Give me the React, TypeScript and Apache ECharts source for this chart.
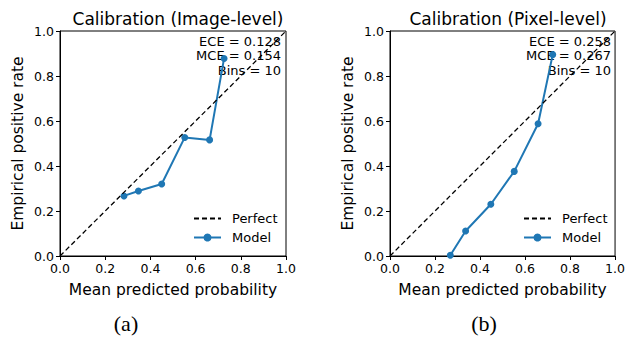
import React, { useEffect, useRef } from "react";
import * as echarts from "echarts";

const ticks = [0, 0.2, 0.4, 0.6, 0.8, 1.0];
const perfectX = [0, 1];
const perfectY = [0, 1];
const imageX = [0.283, 0.347, 0.45, 0.552, 0.662, 0.726];
const imageY = [0.267, 0.289, 0.32, 0.527, 0.516, 0.878];
const pixelX = [0.268, 0.336, 0.448, 0.552, 0.658, 0.723];
const pixelY = [0.003, 0.111, 0.23, 0.376, 0.588, 0.895];
const titles = ["Calibration (Image-level)", "Calibration (Pixel-level)"];
const stats = [
  ["ECE = 0.128", "MCE = 0.154", "Bins = 10"],
  ["ECE = 0.258", "MCE = 0.267", "Bins = 10"],
];
const captions = ["(a)", "(b)"];

const BLUE = "#1f77b4";
const FONT = "DejaVu Sans";

export default function App() {
  const ref = useRef<HTMLDivElement>(null);
  useEffect(() => {
    if (!ref.current) return;
    const chart = echarts.init(ref.current, null, { renderer: "svg" });
    const lefts = [60, 390];
    const W = 226;
    const H = 225;
    const top = 31;
    const zip = (a: number[], b: number[]) => a.map((v, i) => [v, b[i]]);
    const axisCommon = {
      type: "value",
      min: 0,
      max: 1,
      interval: 0.2,
      axisLine: { show: true, lineStyle: { color: "#000", width: 1 } },
      axisTick: { show: true, inside: false, length: 4, lineStyle: { color: "#000" } },
      splitLine: { show: false },
      axisLabel: {
        color: "#000",
        fontFamily: FONT,
        fontSize: 12.5,
        formatter: (v: number) => v.toFixed(1),
        margin: 6,
      },
      nameTextStyle: { color: "#000", fontFamily: FONT, fontSize: 15.5 },
    };
    const graphics: any[] = [];
    lefts.forEach((l, i) => {
      stats[i].forEach((s, j) => {
        graphics.push({
          type: "text",
          x: l + W - 5,
          y: 41 + j * 14.7,
          style: {
            text: s,
            fill: "#000",
            font: `13px "${FONT}"`,
            textAlign: "right",
            textVerticalAlign: "middle",
          },
        });
      });
    });
    const capX = [126, 484];
    captions.forEach((c, i) => {
      graphics.push({
        type: "text",
        x: capX[i],
        y: 323,
        style: {
          text: c,
          fill: "#000",
          font: `22px "Liberation Serif"`,
          textAlign: "center",
          textVerticalAlign: "middle",
        },
      });
    });
    const option: any = {
      animation: false,
      backgroundColor: "#fff",
      title: titles.map((t, i) => ({
        text: t,
        left: lefts[i] + W / 2,
        top: 5,
        textAlign: "center",
        textStyle: { color: "#000", fontFamily: FONT, fontSize: 17, fontWeight: "normal" },
      })),
      grid: lefts.map((l) => ({
        left: l,
        top,
        width: W,
        height: H,
        show: true,
        borderColor: "#000",
        borderWidth: 1,
        backgroundColor: "transparent",
      })),
      xAxis: lefts.map((_, i) => ({
        ...axisCommon,
        gridIndex: i,
        name: "Mean predicted probability",
        nameLocation: "middle",
        nameGap: 26,
      })),
      yAxis: lefts.map((_, i) => ({
        ...axisCommon,
        gridIndex: i,
        name: "Empirical positive rate",
        nameLocation: "middle",
        nameGap: 34,
      })),
      legend: lefts.map((l) => ({
        orient: "vertical",
        left: l + 128,
        top: 207,
        itemWidth: 27,
        itemHeight: 10,
        itemGap: 6,
        data: [
          { name: "Perfect", itemStyle: { opacity: 0 } },
          { name: "Model" },
        ],
        textStyle: { color: "#000", fontFamily: FONT, fontSize: 13, padding: [0, 0, 0, 6] },
        selectedMode: false,
      })),
      series: [
        ...lefts.map((_, i) => ({
          name: "Perfect",
          type: "line",
          xAxisIndex: i,
          yAxisIndex: i,
          data: zip(perfectX, perfectY),
          symbol: "none",
          showSymbol: false,
          lineStyle: { color: "#000", width: 1.3, type: [5, 3] },
          itemStyle: { color: "#000" },
          z: 3,
        })),
        ...[zip(imageX, imageY), zip(pixelX, pixelY)].map((d, i) => ({
          name: "Model",
          type: "line",
          xAxisIndex: i,
          yAxisIndex: i,
          data: d,
          symbol: "circle",
          symbolSize: 7,
          clip: false,
          lineStyle: { color: BLUE, width: 2 },
          itemStyle: { color: BLUE },
          z: 2,
        })),
      ],
      graphic: graphics,
    };
    chart.setOption(option);
    return () => chart.dispose();
  }, []);
  return (
    <div
      ref={ref}
      style={{ position: "fixed", left: 0, top: 0, width: 628, height: 339 }}
    />
  );
}
